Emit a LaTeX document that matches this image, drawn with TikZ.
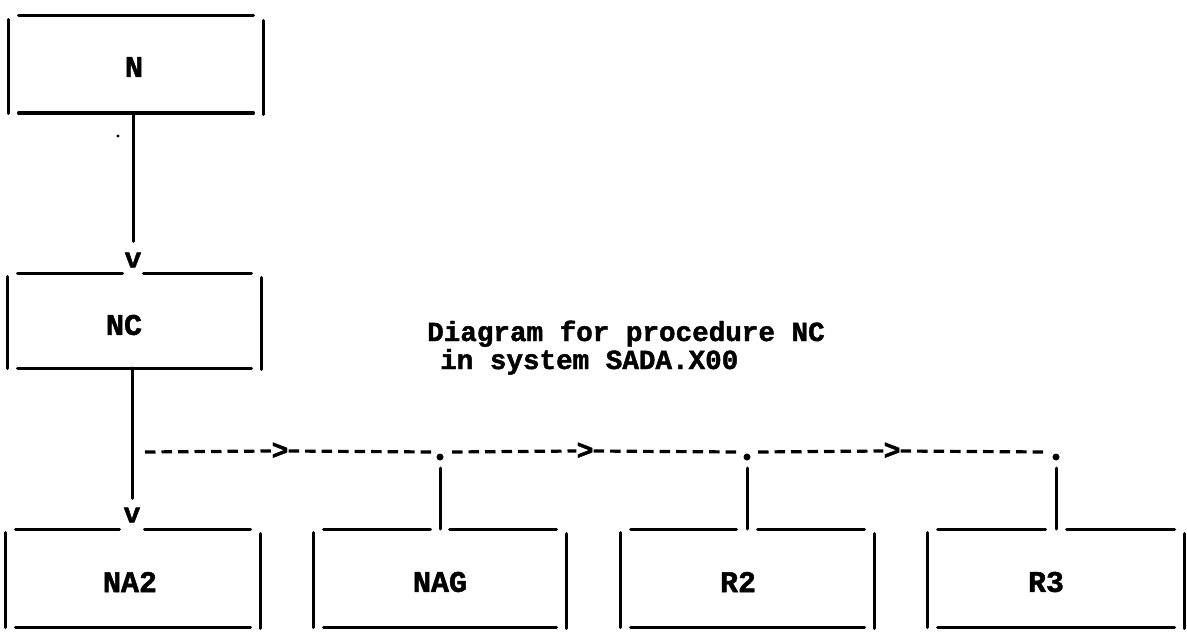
\documentclass[tikz,border=0pt]{standalone}
\usepackage{fontspec}
\setmainfont{Liberation Mono}[BoldFeatures={FakeBold=1.6}]
\usetikzlibrary{calc}
\newcommand\sidesof[1]{%
  \draw[ln] ([yshift=-3.5pt]#1.north west) -- ([yshift=-0.5pt]#1.south west);
  \draw[ln] ([yshift=-4.5pt]#1.north east) -- ([yshift=-1.5pt]#1.south east);
  \draw[ln] ([xshift=10.5pt]#1.south west) -- ([xshift=-9.5pt]#1.south east);
}
\newcommand\topfull[1]{%
  \draw[ln] ([xshift=10.5pt]#1.north west) -- ([xshift=-9.5pt]#1.north east);
}
\newcommand\topgap[3]{%
  \draw[ln] ([xshift=10.5pt]#1.north west) -- ($(#1.north -| #2)+(-#3,0)$);
  \draw[ln] ($(#1.north -| #2)+(#3,0)$) -- ([xshift=-9.5pt]#1.north east);
}
\begin{document}
\begin{tikzpicture}[x=1pt,y=-1pt,
  ln/.style={line width=3pt, line cap=round},
  dsh/.style={line width=3.2pt, dash pattern=on 10.5pt off 6pt},
  lbl/.style={font=\fontsize{30}{30}\selectfont\bfseries, inner sep=0pt},
  ch/.style={font=\fontsize{28}{28}\selectfont\bfseries, inner sep=0pt},
  ttl/.style={font=\fontsize{27.6}{27.6}\selectfont\bfseries, inner sep=0pt, anchor=base west},
  boxn/.style 2 args={minimum width=#1pt, minimum height=#2pt, inner sep=0pt, outer sep=0pt},
  dotn/.style={circle, fill, inner sep=0pt, minimum size=7pt}]
\useasboundingbox (0,0) rectangle (1187,642);

% boxes
\node[boxn={255}{97}] (N)   at (135.5,64.5) {};
\node[boxn={254}{95}] (NC)  at (134,320.5) {};
\node[boxn={255}{98}] (NA2) at (132.5,578) {};
\node[boxn={253}{98}] (NAG) at (439.5,578) {};
\node[boxn={254}{98}] (R2)  at (747,578) {};
\node[boxn={257}{98}] (R3)  at (1055.5,578) {};

% labels
\node[lbl] (tN)   at (134,67)  {N};
\node[lbl] (tNC)  at (124,325) {NC};
\node[lbl] (tNA2) at (130,582) {NA2};
\node[lbl] (tNAG) at (440,582) {NAG};
\node[lbl] (tR2)  at (738,582) {R2};
\node[lbl] (tR3)  at (1046,582) {R3};

% title
\node[ttl] (t1) at (427,341) {Diagram for procedure NC};
\node[ttl] (t2) at (440,369) {in system SADA.X00};

% arrow heads as printed characters
\node[ch] (v1) at (133,260) {v};
\node[ch] (v2) at (132,515) {v};
\node[ch] (a1) at (280,451) {>};
\node[ch] (a2) at (585,451) {>};
\node[ch] (a3) at (892,451) {>};

% junction dots
\node[dotn] (d1) at (440,457) {};
\node[dotn] (d2) at (747,457) {};
\node[dotn] (d3) at (1056,457) {};

% free ends of the dashed line
\coordinate (s)  at (145,452);
\coordinate (e1) at (432,452);
\coordinate (s2) at (452,452);
\coordinate (e2) at (737,452);
\coordinate (s3) at (758,452);
\coordinate (e3) at (1045,452);

% box outlines
\sidesof{N}   \topfull{N}
\sidesof{NC}  \topgap{NC}{v1}{10.5}
\sidesof{NA2} \topgap{NA2}{v2}{12.5}
\sidesof{NAG} \topgap{NAG}{d1}{9.5}
\sidesof{R2}  \topgap{R2}{d2}{10.5}
\sidesof{R3}  \topgap{R3}{d3}{10.5}

% stray mark
\fill (118,136) circle (1.6pt);

% solid connectors
\draw[ln] (N.south -| v1) -- ([yshift=11pt]v1.north);
\draw[ln] (NC.south -| v2) -- ([yshift=9pt]v2.north);
\draw[ln] ([yshift=-11pt]d1.center) -- (NAG.north -| d1);
\draw[ln] ([yshift=-11pt]d2.center) -- (R2.north -| d2);
\draw[ln] ([yshift=-11pt]d3.center) -- (R3.north -| d3);

% dashed call line
\draw[dsh] (s) -- (a1.west);
\draw[dsh] (a1.east) -- (e1);
\draw[dsh] (s2) -- (a2.west);
\draw[dsh] (a2.east) -- (e2);
\draw[dsh] (s3) -- (a3.west);
\draw[dsh] (a3.east) -- (e3);
\end{tikzpicture}
\end{document}
